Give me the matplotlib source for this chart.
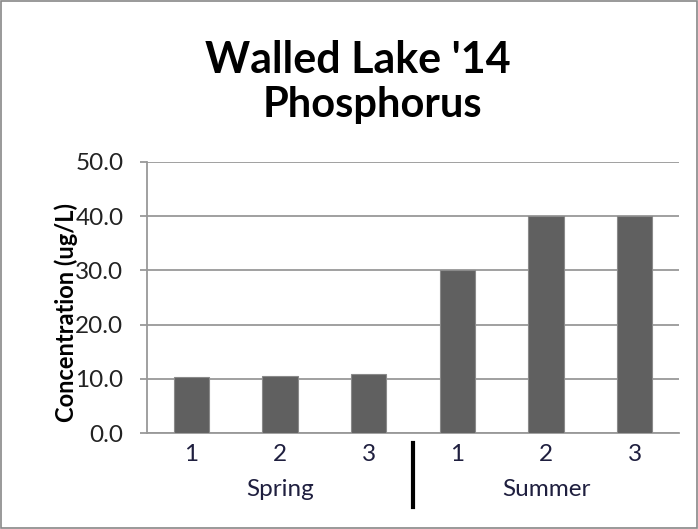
import matplotlib
matplotlib.use("Agg")
import matplotlib.pyplot as plt
from matplotlib.patches import Rectangle
from matplotlib.lines import Line2D

groups = ["Spring", "Summer"]
sub_labels = ["1", "2", "3", "1", "2", "3"]
values = [10.4, 10.6, 10.8, 30.0, 40.0, 40.0]
yticks = [0, 10, 20, 30, 40, 50]

plt.rcParams['font.family'] = ['Lato', 'DejaVu Sans']

W, H = 698, 529
fig = plt.figure(figsize=(W/100, H/100), dpi=100)
ax = fig.add_axes([147/W, 1-433/H, (679-147)/W, (433-162)/H])

x = list(range(len(values)))
ax.bar(x, values, width=0.4, color="#606060", edgecolor="#8a8a8a", linewidth=0.8, zorder=3)
ax.set_xlim(-0.5, len(values)-0.5)
ax.set_ylim(0, 50)
ax.set_yticks(yticks)
ax.set_yticklabels([f"{v:.1f}" for v in yticks], fontsize=17.5, color="#222222")
ax.yaxis.grid(True, color="#999999", linewidth=1.3, zorder=0)
ax.set_axisbelow(True)
for s in ["top", "right"]:
    ax.spines[s].set_visible(False)
for s in ["left", "bottom"]:
    ax.spines[s].set_color("#999999")
    ax.spines[s].set_linewidth(1.3)
ax.tick_params(axis="y", length=5, width=1.3, color="#999999", pad=12)
ax.set_xticks(x)
ax.set_xticklabels(sub_labels, fontsize=17.5, color="#1f1f3f")
ax.tick_params(axis="x", length=0, pad=8)

# y label placed in figure coordinates (overlaps tick labels as in reference)
fig.text(66/W, 1-313/H, "Concentration (ug/L)", rotation=90, ha="center", va="center",
         fontsize=17, fontweight="bold")

# group labels
for gi, g in enumerate(groups):
    cx = gi*3 + 1
    ax.text(cx, 1-(489-162)/(433-162), g, transform=ax.get_xaxis_transform(),
            ha="center", va="center", fontsize=17.5, color="#1f1f3f")
# separator
ax.add_line(Line2D([2.5, 2.5], [-(443-433)/271, -(507-433)/271], transform=ax.get_xaxis_transform(),
                   color="black", linewidth=3, clip_on=False))

fig.text(358/W, 1-73/H, "Walled Lake '14", ha="center", va="baseline", fontsize=31, fontweight="bold")
fig.text(372/W, 1-117/H, "Phosphorus", ha="center", va="baseline", fontsize=30, fontweight="bold")

fig.patches.append(Rectangle((0.0015, 0.002), 0.997, 0.996, transform=fig.transFigure,
                             fill=False, edgecolor="#888888", linewidth=1.2))

fig.savefig("out.png", dpi=100)
